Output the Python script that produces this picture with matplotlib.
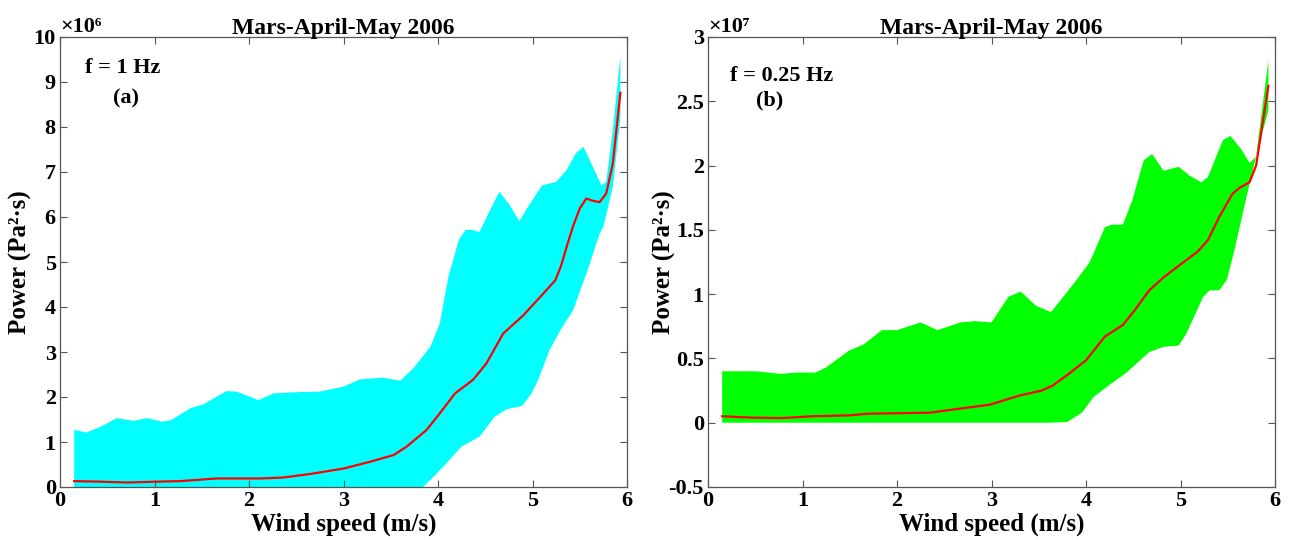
import matplotlib.pyplot as plt
from matplotlib.ticker import FuncFormatter

plt.rcParams['font.family'] = ['Liberation Serif', 'DejaVu Serif']
plt.rcParams['font.weight'] = 'bold'
plt.rcParams['axes.unicode_minus'] = False

# f = 1 Hz, power in units of 1e6 Pa^2 s
x_up_a = [0.15, 0.28, 0.45, 0.60, 0.78, 0.92, 1.08, 1.18, 1.38, 1.52, 1.76, 1.87, 2.10, 2.26,
          2.54, 2.75, 3.00, 3.17, 3.42, 3.60, 3.74, 3.92, 4.02, 4.11, 4.22, 4.29, 4.34, 4.44,
          4.55, 4.65, 4.76, 4.86, 4.95, 5.10, 5.25, 5.36, 5.46, 5.54, 5.64, 5.73, 5.78, 5.85, 5.93]
y_up_a = [1.27, 1.21, 1.36, 1.53, 1.47, 1.53, 1.45, 1.49, 1.75, 1.84, 2.13, 2.12, 1.93, 2.08,
          2.11, 2.12, 2.23, 2.39, 2.43, 2.36, 2.64, 3.12, 3.64, 4.67, 5.49, 5.71, 5.72, 5.67,
          6.15, 6.56, 6.26, 5.91, 6.22, 6.70, 6.78, 7.04, 7.42, 7.56, 7.11, 6.70, 6.78, 7.93, 9.57]
x_lo_a = [0.15, 1.00, 2.00, 3.00, 3.70, 3.84, 3.95, 4.09, 4.25, 4.44, 4.60, 4.73, 4.89, 4.99,
          5.06, 5.18, 5.30, 5.43, 5.57, 5.71, 5.75, 5.85, 5.93]
y_lo_a = [0.0, 0.0, 0.0, 0.0, 0.0, 0.0, 0.22, 0.53, 0.90, 1.12, 1.56, 1.73, 1.80, 2.08,
          2.38, 3.04, 3.50, 3.93, 4.74, 5.63, 5.78, 6.67, 8.20]
x_mean_a = [0.15, 0.40, 0.71, 1.06, 1.27, 1.66, 2.12, 2.36, 2.65, 3.00, 3.28, 3.53, 3.67, 3.88,
            4.02, 4.18, 4.37, 4.51, 4.69, 4.90, 5.08, 5.24, 5.30, 5.36, 5.43, 5.50, 5.57, 5.64,
            5.71, 5.78, 5.85, 5.93]
y_mean_a = [0.13, 0.12, 0.10, 0.12, 0.13, 0.19, 0.19, 0.21, 0.29, 0.41, 0.56, 0.71, 0.90, 1.27,
            1.64, 2.08, 2.38, 2.74, 3.41, 3.81, 4.22, 4.59, 4.90, 5.33, 5.80, 6.19, 6.41, 6.36,
            6.33, 6.52, 7.19, 8.76]

# f = 0.25 Hz, power in units of 1e7 Pa^2 s
x_up_b = [0.15, 0.51, 0.76, 0.94, 1.14, 1.25, 1.49, 1.65, 1.84, 2.00, 2.25, 2.43, 2.67, 2.82,
          3.00, 3.18, 3.31, 3.47, 3.63, 3.76, 3.92, 4.04, 4.20, 4.27, 4.39, 4.49, 4.61, 4.70,
          4.82, 4.98, 5.10, 5.22, 5.29, 5.45, 5.53, 5.65, 5.73, 5.80, 5.93]
y_up_b = [0.40, 0.40, 0.38, 0.39, 0.39, 0.43, 0.56, 0.61, 0.72, 0.72, 0.78, 0.72, 0.78, 0.79,
          0.78, 0.98, 1.02, 0.91, 0.86, 0.98, 1.13, 1.25, 1.52, 1.54, 1.54, 1.73, 2.04, 2.09,
          1.96, 1.99, 1.92, 1.87, 1.91, 2.20, 2.23, 2.12, 2.02, 2.07, 2.82]
x_lo_b = [0.15, 1.00, 2.00, 3.00, 3.60, 3.80, 3.96, 4.08, 4.24, 4.43, 4.67, 4.82, 4.98, 5.06,
          5.24, 5.31, 5.41, 5.49, 5.57, 5.69, 5.80, 5.93]
y_lo_b = [0.0, 0.0, 0.0, 0.0, 0.0, 0.005, 0.08, 0.20, 0.29, 0.39, 0.55, 0.59, 0.60, 0.69,
          0.98, 1.03, 1.03, 1.11, 1.34, 1.73, 2.07, 2.43]
x_mean_b = [0.15, 0.45, 0.78, 1.10, 1.49, 1.69, 2.35, 2.67, 2.98, 3.29, 3.53, 3.65, 3.80, 4.00,
            4.20, 4.39, 4.51, 4.67, 4.82, 4.98, 5.18, 5.29, 5.41, 5.55, 5.63, 5.73, 5.80, 5.93]
y_mean_b = [0.05, 0.04, 0.036, 0.05, 0.057, 0.07, 0.078, 0.11, 0.14, 0.21, 0.25, 0.29, 0.37, 0.485,
            0.67, 0.76, 0.87, 1.03, 1.13, 1.22, 1.33, 1.42, 1.60, 1.78, 1.83, 1.87, 2.00, 2.62]

panels = [
    dict(xu=x_up_a, yu=y_up_a, xl=x_lo_a, yl=y_lo_a, xm=x_mean_a, ym=y_mean_a,
         color='#00ffff', ylim=(0, 10), yticks=range(0, 11), scale='×10⁶',
         f='f = 1 Hz', tag='(a)', fpos=(0.26, 9.3), tagpos=(0.56, 8.64), ylab_x=-0.05),
    dict(xu=x_up_b, yu=y_up_b, xl=x_lo_b, yl=y_lo_b, xm=x_mean_b, ym=y_mean_b,
         color='#00ff00', ylim=(-0.5, 3), yticks=[-0.5, 0, 0.5, 1, 1.5, 2, 2.5, 3], scale='×10⁷',
         f='f = 0.25 Hz', tag='(b)', fpos=(0.23, 2.70), tagpos=(0.51, 2.51), ylab_x=-0.057),
]

fig = plt.figure(figsize=(12.96, 5.4), dpi=100)
lefts = [60 / 1296, 708 / 1296]
for left, p in zip(lefts, panels):
    ax = fig.add_axes([left, 53 / 540, 567 / 1296, 450 / 540])
    # band between lower and upper curves
    xs = p['xu'] + p['xl'][::-1]
    ys = p['yu'] + p['yl'][::-1]
    ax.fill(xs, ys, color=p['color'], lw=0)
    ax.plot(p['xm'], p['ym'], color='red', lw=1.6)
    ax.set_xlim(0, 6)
    ax.set_ylim(*p['ylim'])
    ax.set_xticks(range(0, 7))
    ax.set_yticks(p['yticks'])
    ax.yaxis.set_major_formatter(FuncFormatter(lambda v, pos: '%g' % v))
    ax.tick_params(direction='in', top=True, right=True, length=5, width=0.8,
                   color='#555555', labelsize=16, pad=3)
    for s in ax.spines.values():
        s.set_color('#555555')
        s.set_linewidth(0.9)
    ax.set_title('Mars-April-May 2006', fontsize=17, fontweight='bold', pad=2)
    ax.set_xlabel('Wind speed (m/s)', fontsize=18, fontweight='bold', labelpad=1)
    ax.set_ylabel('Power (Pa²·s)', fontsize=18, fontweight='bold')
    ax.yaxis.set_label_coords(p['ylab_x'], 0.5)
    ax.text(0.0, 1.0, p['scale'], transform=ax.transAxes, fontsize=16,
            ha='left', va='bottom')
    ax.text(*p['fpos'], p['f'], fontsize=16, ha='left', va='center')
    ax.text(*p['tagpos'], p['tag'], fontsize=16, ha='left', va='center')

fig.savefig('out.png', dpi=100)
